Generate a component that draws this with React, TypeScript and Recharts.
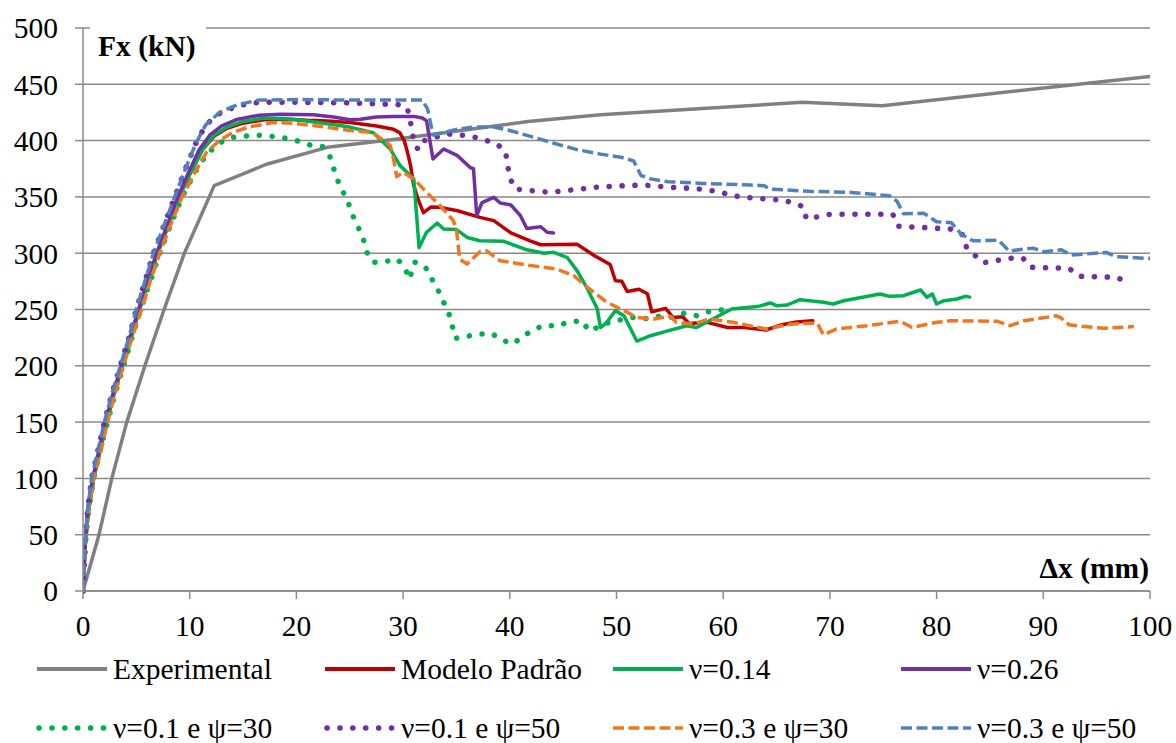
import React from "react";
import { CartesianGrid, Line, LineChart, XAxis, YAxis } from "recharts";

// Fx (kN) vs Δx (mm)
const xTicks = [0, 10, 20, 30, 40, 50, 60, 70, 80, 90, 100];
const yTicks = [0, 50, 100, 150, 200, 250, 300, 350, 400, 450, 500];

const experimental: [number, number][] = [
  [0, 0], [1.5, 50], [2.7, 100], [4.1, 150], [5.8, 200], [7.6, 250], [9.5, 300], [12.3, 360],
  [17.2, 379], [22.9, 394], [29.1, 401], [36.3, 410], [41.7, 417], [48.5, 423], [67.4, 434],
  [74.9, 431], [100, 457]
];

const modeloPadrao: [number, number][] = [
  [0, 0], [0.2, 40], [0.5, 70], [1.0, 100], [1.6, 125], [2.2, 150], [2.9, 175], [3.7, 200],
  [4.5, 225], [5.3, 250], [6.1, 275], [7.0, 300], [8.0, 325], [9.0, 350], [10.1, 372], [11.2, 392],
  [12.3, 404], [13.5, 411], [15, 415.5], [17, 418.5], [19, 419], [21, 418], [22.9, 417.5], [25, 416],
  [27.5, 413], [29.1, 410], [29.7, 407], [30.1, 400], [30.4, 390], [30.7, 377.7], [31, 360],
  [31.4, 348], [31.9, 336], [32.6, 341], [33.5, 340.7], [35.1, 337.7], [37.2, 331.8], [38.5, 328.9],
  [40.1, 318], [41.9, 311], [42.9, 307.5], [46.3, 308], [47.9, 298], [49.4, 290], [49.9, 275.6],
  [50.5, 275], [51, 266], [52.1, 268], [52.9, 264], [53.3, 248], [54.6, 251], [55.3, 243],
  [56.2, 243.5], [56.8, 237.5], [58.5, 238.6], [60.4, 234], [62, 234], [64, 231.8], [65.5, 236.5],
  [66.9, 239], [68.4, 240]
];

const nu014: [number, number][] = [
  [0, 0], [0.2, 40], [0.5, 70], [1.0, 100], [1.6, 125], [2.2, 150], [2.9, 175], [3.7, 200],
  [4.5, 225], [5.3, 250], [6.1, 275], [7.0, 300], [8.0, 325], [9.0, 350], [10.1, 372], [11.2, 392],
  [12.3, 405], [13.5, 412], [15, 417], [17, 420], [19.7, 419], [22.9, 415], [25, 412], [27.2, 407],
  [28.8, 392.5], [29.7, 378], [31, 366], [31.5, 305], [32.2, 318.6], [33.2, 326.8], [33.8, 321.5],
  [35, 321], [36, 314], [37.2, 311], [39.4, 310.6], [41.6, 303], [43.2, 300], [44.1, 300.8],
  [45.4, 296], [46.3, 284.5], [47.3, 268], [48.2, 250.4], [48.5, 234], [49.1, 238.6], [49.9, 249],
  [50.7, 244.5], [51.9, 222], [53.2, 226.7], [54.8, 231], [56.6, 235.6], [57.5, 234], [60.8, 250.4],
  [62.5, 252], [63.4, 253], [64.4, 255.8], [65, 253.4], [66, 254], [67.2, 258.7], [69.4, 256.4],
  [70.3, 254.9], [71.3, 257.8], [74.7, 263.8], [75.6, 261.7], [76.9, 262.3], [78.5, 267.3],
  [79.1, 260.8], [79.6, 263.8], [80, 254.9], [80.7, 257.8], [81.9, 259.3], [82.7, 261.7], [83.1, 261]
];

const nu026: [number, number][] = [
  [0, 0], [0.2, 40], [0.4, 70], [0.9, 100], [1.5, 125], [2.1, 150], [2.8, 175], [3.6, 200],
  [4.4, 225], [5.2, 250], [6.0, 275], [6.9, 300], [7.9, 325], [8.9, 350], [9.9, 372], [10.9, 392],
  [11.9, 405], [13, 413], [14.5, 419], [16.5, 422.5], [18.5, 423.5], [21.6, 423], [23.5, 421],
  [25, 418.5], [26, 419], [27.5, 421], [29, 421.5], [31, 421.5], [31.8, 420], [32.2, 417.5],
  [32.8, 383.7], [33.8, 392.5], [35.1, 386.6], [36.3, 376], [36.6, 375], [36.9, 333.3], [37.4, 345],
  [38.5, 349.6], [39.1, 344.6], [40.1, 342.8], [41, 333.3], [41.6, 322], [42.9, 323.5], [43.5, 318.6],
  [44.1, 318]
];

const nu01psi30: [number, number][] = [
  [0, 0], [0.2, 40], [0.5, 70], [1.0, 100], [1.6, 125], [2.3, 150], [3.0, 175], [3.8, 200],
  [4.6, 225], [5.4, 250], [6.3, 275], [7.2, 300], [8.2, 325], [9.3, 350], [10.5, 372], [11.6, 388],
  [12.8, 398], [14.1, 403], [16.3, 405], [18.5, 403], [20, 400], [21.3, 396], [22.5, 394.6],
  [23.1, 387], [23.8, 366], [24.4, 354], [24.9, 343.7], [25.3, 333], [25.8, 323], [26.3, 311.7],
  [26.6, 300.8], [27.2, 292], [28.3, 292.4], [29.4, 295], [30, 289.5], [30.5, 280], [30.6, 277],
  [31.1, 292], [32.1, 287.5], [32.7, 277], [33.3, 266.7], [33.8, 256.4], [34.3, 246], [34.6, 235.6],
  [34.9, 224.4], [36, 226.2], [37.2, 228.2], [38.3, 228.8], [39.2, 223.2], [40.3, 219.4],
  [41.1, 225.3], [42.2, 232], [43.3, 236.2], [44.4, 235], [45.5, 239], [46.8, 240], [47.4, 231],
  [48.2, 234], [49.4, 239], [51.6, 243], [52.8, 242], [54.1, 244], [55.1, 243], [56.3, 246.6],
  [57.5, 244.5], [58.6, 248], [59.7, 249.8], [60.8, 247.5]
];

const nu01psi50: [number, number][] = [
  [0, 0], [0.2, 40], [0.4, 70], [0.8, 100], [1.4, 125], [2.0, 150], [2.7, 175], [3.5, 200],
  [4.3, 225], [5.0, 250], [5.8, 275], [6.6, 300], [7.6, 325], [8.6, 350], [9.6, 375], [10.6, 398],
  [11.5, 414], [12.8, 424], [14.5, 431], [16.5, 434], [20, 434], [25, 433.5], [29.5, 432],
  [30.4, 429], [30.7, 416], [31, 400], [31.4, 392], [32, 400], [34.1, 406], [36.3, 404], [37.5, 401],
  [38.8, 397], [39.6, 390], [39.8, 378], [40, 367], [40.5, 357], [43.8, 354], [48.5, 359],
  [52.5, 360.6], [55, 358.5], [57.2, 357.6], [59.7, 354.6], [60.8, 351], [63.1, 348.7],
  [65.5, 347.2], [66.6, 344.6], [67.5, 341.3], [67.8, 330.4], [70, 334.5], [75.9, 334.5],
  [76.4, 324], [81.3, 321.5], [82.4, 316.5], [82.8, 305.3], [83.5, 298.8], [84.4, 291.5],
  [86.9, 295.6], [88.1, 295.6], [88.8, 287.5], [92.4, 286.6], [93.4, 279.5], [96.8, 278.6],
  [97.9, 274.7]
];

const nu03psi30: [number, number][] = [
  [0, 0], [0.2, 40], [0.5, 70], [1.0, 100], [1.7, 125], [2.3, 150], [3.0, 175], [3.8, 200],
  [4.6, 225], [5.5, 250], [6.3, 275], [7.2, 300], [8.2, 325], [9.3, 350], [10.5, 372], [11.6, 390],
  [12.8, 400], [14, 407], [15.5, 412], [17.8, 416], [19.6, 415.5], [22.9, 411.8], [25, 409],
  [27.2, 407], [28.8, 395.5], [29.1, 383.7], [29.4, 368], [30, 371.8], [31, 366], [32.2, 354],
  [33.5, 342], [34.7, 329], [35, 321.5], [35.3, 294.8], [36, 290.4], [37.2, 301.3], [37.8, 302.2],
  [39.1, 293.3], [41.6, 289.5], [44.4, 286], [46, 280], [47.5, 268], [49.1, 256.4], [50.7, 249],
  [51.9, 243], [53.5, 241.6], [55, 244], [55.6, 238.6], [57.2, 237], [58.7, 241.6], [60.9, 238.6],
  [64, 232.7], [66.3, 237], [68.8, 238], [69.4, 227.4], [70.6, 232.7], [73.5, 235.6], [76.6, 239.5],
  [77.7, 234], [80, 238.6], [81.3, 240], [85.7, 239.5], [86.9, 235.6], [88.2, 240], [91.2, 244.4],
  [91.6, 243], [92.4, 236.5], [93.8, 234.8], [95.7, 233.3], [98.5, 234.8]
];

const nu03psi50: [number, number][] = [
  [0, 0], [0.2, 40], [0.4, 70], [0.8, 100], [1.4, 125], [2.0, 150], [2.7, 175], [3.5, 200],
  [4.3, 225], [5.0, 250], [5.8, 275], [6.6, 300], [7.6, 325], [8.6, 350], [9.6, 375], [10.6, 398],
  [11.5, 414], [12.8, 425], [14.5, 432], [16.5, 436], [20, 436.5], [25, 436], [31.8, 436],
  [32.3, 428], [32.8, 405], [33.8, 407], [35, 410], [36.6, 412], [38.5, 412], [40, 409],
  [42.2, 403], [44, 398], [46.3, 392], [48.5, 388], [50.5, 385], [51.6, 382], [52.3, 369],
  [53.2, 366], [54.8, 363.5], [58, 362], [62.6, 360.5], [63.8, 360], [64.4, 357], [68, 355],
  [72, 354], [75.6, 351], [76.3, 346], [76.9, 335], [78.8, 335.5], [80, 328], [81.4, 327],
  [82.3, 317], [83.4, 311], [85.8, 311.5], [86.8, 302], [89, 304.5], [90.1, 301.3], [91.7, 303],
  [92.6, 298.3], [95.9, 300.7], [96.8, 297], [100, 295.3]
];

const FONT = "'Liberation Serif', 'Times New Roman', serif";
const FS = 29.5;
const DOTTED = { dash: "0.1 12.8", width: 5.5, cap: "round" as const };
const DASHED = { dash: "11 4.5", width: 3.5, cap: "butt" as const };

const series = [
  { name: "Experimental", pts: experimental, color: "#808080" },
  { name: "Modelo Padrão", pts: modeloPadrao, color: "#C00000" },
  { name: "ν=0.14", pts: nu014, color: "#00B050" },
  { name: "ν=0.26", pts: nu026, color: "#7030A0" },
  { name: "ν=0.1 e ψ=30", pts: nu01psi30, color: "#00B050", style: DOTTED },
  { name: "ν=0.1 e ψ=50", pts: nu01psi50, color: "#7030A0", style: DOTTED },
  { name: "ν=0.3 e ψ=30", pts: nu03psi30, color: "#EE7722", style: DASHED },
  { name: "ν=0.3 e ψ=50", pts: nu03psi50, color: "#4F81BD", style: DASHED }
];

const LegendItem = ({ s, left, top }: { s: any; left: number; top: number }) => (
  <div style={{ position: "absolute", left, top, display: "flex", alignItems: "center", height: 30 }}>
    <svg width={70} height={10} style={{ overflow: "visible" }}>
      <line
        x1={s.style?.cap === "round" ? 2 : 0}
        x2={70}
        y1={5}
        y2={5}
        stroke={s.color}
        strokeWidth={s.style ? s.style.width : 4}
        strokeDasharray={s.style ? s.style.dash : undefined}
        strokeLinecap={s.style ? s.style.cap : "butt"}
      />
    </svg>
    <span style={{ marginLeft: 6, fontSize: FS, lineHeight: "30px", color: "#000", whiteSpace: "nowrap" }}>{s.name}</span>
  </div>
);

export default function App() {
  return (
    <div style={{ position: "absolute", left: 0, top: 0, width: 1176, height: 743, background: "#fff", fontFamily: FONT }}>
      <LineChart width={1176} height={645} margin={{ top: 28, right: 26, left: 0, bottom: 14 }}>
        <CartesianGrid vertical={false} stroke="#8a8a8a" strokeWidth={1.5} />
        <XAxis
          type="number"
          dataKey="x"
          domain={[0, 100]}
          ticks={xTicks}
          allowDataOverflow
          height={40}
          stroke="#8a8a8a"
          strokeWidth={1.5}
          tickSize={8}
          tickMargin={16}
          tick={{ fill: "#000", fontSize: FS, fontFamily: FONT }}
        />
        <YAxis
          type="number"
          dataKey="y"
          domain={[0, 500]}
          ticks={yTicks}
          width={83}
          stroke="#8a8a8a"
          strokeWidth={1.5}
          tickSize={8}
          tickMargin={17}
          tick={{ fill: "#000", fontSize: FS, fontFamily: FONT }}
        />
        {series.map((s) => (
          <Line
            key={s.name}
            data={s.pts.map(([x, y]) => ({ x, y }))}
            dataKey="y"
            type="linear"
            stroke={s.color}
            strokeWidth={s.style ? s.style.width : 3.5}
            strokeDasharray={s.style ? s.style.dash : undefined}
            strokeLinecap={s.style ? s.style.cap : "round"}
            strokeLinejoin="round"
            dot={false}
            activeDot={false}
            isAnimationActive={false}
          />
        ))}
      </LineChart>

      {/* axis titles */}
      <div style={{ position: "absolute", left: 90, top: 20, width: 116, height: 46, background: "#fff" }} />
      <div style={{ position: "absolute", left: 98, top: 32, fontSize: FS, fontWeight: "bold", lineHeight: 1, whiteSpace: "nowrap" }}>
        Fx (kN)
      </div>
      <div style={{ position: "absolute", right: 1176 - 1149, top: 554, fontSize: FS, fontWeight: "bold", lineHeight: 1, whiteSpace: "nowrap" }}>
        Δx (mm)
      </div>

      {series.map((s, i) => (
        <LegendItem key={s.name} s={s} left={37 + (i % 4) * 288} top={i < 4 ? 654 : 713} />
      ))}
    </div>
  );
}
